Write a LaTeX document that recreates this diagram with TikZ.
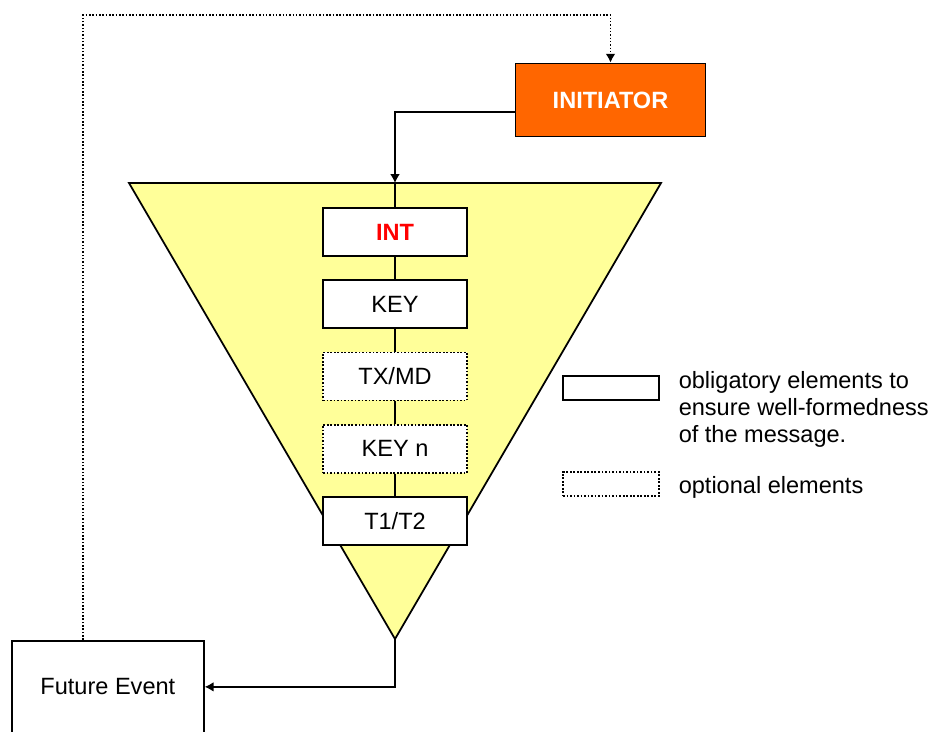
\documentclass[tikz,border=0pt]{standalone}
\usepackage{fontspec}
\setmainfont{Liberation Sans}
\usetikzlibrary{positioning,arrows.meta}
\definecolor{initorange}{HTML}{FF6600}
\definecolor{funnelyellow}{HTML}{FFFF99}
\tikzset{every picture/.style={line width=0.9pt},
  >={Latex[length=5pt,width=5.5pt]},
  txt/.style={font=\fontsize{13.4}{15.3}\selectfont},
  elem/.style={txt, draw, line width=1pt, fill=white, minimum width=2.88cm, minimum height=0.96cm, inner sep=0pt},
  optelem/.style={elem, densely dotted}}

\begin{document}
\begin{tikzpicture}[x=0.02cm, y=-0.02cm, node distance=0.45cm]
    \useasboundingbox (0,0) rectangle (934,731);
    \clip (0,0) rectangle (934,731);

    % Funnel
    \coordinate (tritop) at (395,183);
    \coordinate (apex) at (395,639);
    \draw[line width=1pt, fill=funnelyellow] (129,183) -- (661,183) -- (apex) -- cycle;

    % Initiator
    \node[elem, fill=initorange, text=white, minimum width=3.8cm, minimum height=1.46cm] (init) at (610.5,100) {\bfseries INITIATOR};

    % Message elements
    \node[elem, text=red] (int) at (395,232) {\bfseries INT};
    \node[elem, below=of int] (key) {KEY};
    \node[optelem, below=of key] (txmd) {TX/MD};
    \node[optelem, below=of txmd] (keyn) {KEY n};
    \node[elem, below=of keyn] (tt) {T1/T2};

    \draw (tritop) -- (int);
    \draw (int) -- (key);
    \draw (key) -- (txmd);
    \draw (txmd) -- (keyn);
    \draw (keyn) -- (tt);

    % Future event
    \node[elem, minimum width=3.84cm, minimum height=1.84cm, anchor=north west] (fe) at (11,640) {Future Event};

    % Connectors
    \draw[->] ([yshift=-0.24cm]init.west) -| (tritop);
    \draw[->] (apex) |- (fe);
    \coordinate (looptop) at (83,15);
    \draw[densely dotted, ->] (fe.north -| looptop) -- (looptop) -| (init);

    % Legend
    \node[elem, minimum width=1.92cm, minimum height=0.48cm] (legobl) at (611,388) {};
    \node[optelem, minimum width=1.92cm, minimum height=0.48cm] (legopt) at (611,484) {};
    \node[txt, anchor=north west, align=left, inner sep=0pt] (obltext) at (678,371) {obligatory elements to\\ensure well-formedness\\of the message.};
    \node[txt, anchor=base west, inner sep=0pt] (opttext) at (678,493) {optional elements};
\end{tikzpicture}
\end{document}
